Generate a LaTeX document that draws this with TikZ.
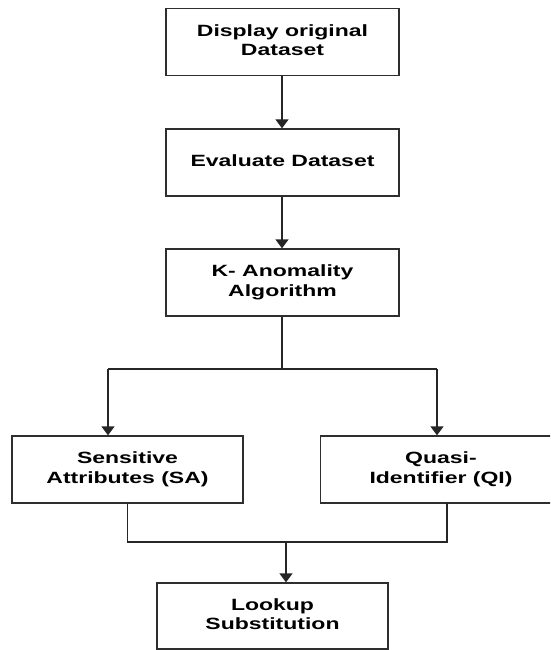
\documentclass[tikz,border=0pt]{standalone}
\usepackage{fontspec}
\usepackage{graphicx}
\setmainfont{Liberation Sans}
\usetikzlibrary{arrows.meta}

% wide bold label, centred lines
\newcommand{\widelabel}[1]{\scalebox{1.41}[1]{\begin{tabular}{@{}c@{}}#1\end{tabular}}}

\begin{document}
\begin{tikzpicture}[x=1pt,y=-1pt,
  flowbox/.style={draw=black!82, line width=1.3pt, fill=white,
    minimum width=233pt, minimum height=67pt, inner sep=0pt,
    font=\fontsize{16.3}{19.5}\selectfont\bfseries, text=black},
  link/.style={draw=black!85, line width=1.3pt},
  arrowlink/.style={link, -{Triangle[width=13pt,length=9pt]}}]
\useasboundingbox (0,0) rectangle (550,650);
\clip (0,0) rectangle (550,650);

% process boxes
\node[flowbox] (display) at (282.5,42)   {\widelabel{Display original\\Dataset}};
\node[flowbox] (evaluate) at (282.5,162.5) {\widelabel{Evaluate Dataset}};
\node[flowbox] (kanom) at (282.5,282.5)  {\widelabel{K- Anomality\\Algorithm}};
\node[flowbox, minimum width=231pt] (sa) at (127.5,469.5) {\widelabel{Sensitive\\Attributes (SA)}};
\node[flowbox, minimum width=241pt] (qi) at (441,469.5)   {\widelabel{Quasi-\\Identifier (QI)}};
\node[flowbox, minimum width=231pt, minimum height=66pt] (lookup) at (272.5,616) {\widelabel{Lookup\\Substitution}};

% junction points
\coordinate (split) at (282,369);
\coordinate (splitL) at (108,369);
\coordinate (splitR) at (437,369);
\coordinate (saOut) at (127.5,503);
\coordinate (qiOut) at (447,503);
\coordinate (mergeL) at (127.5,542);
\coordinate (mergeR) at (447,542);
\coordinate (merge) at (286,542);

% connectors
\draw[arrowlink] (display.south -| split) -- (evaluate.north -| split);
\draw[arrowlink] (evaluate.south -| split) -- (kanom.north -| split);
\draw[link] (kanom.south -| split) -- (split);
\draw[link] (splitL) -- (splitR);
\draw[arrowlink] (splitL) -- (splitL |- sa.north);
\draw[arrowlink] (splitR) -- (splitR |- qi.north);
\draw[link] (saOut) -- (mergeL) -- (mergeR) -- (qiOut);
\draw[arrowlink] (merge) -- (merge |- lookup.north);
\end{tikzpicture}
\end{document}
